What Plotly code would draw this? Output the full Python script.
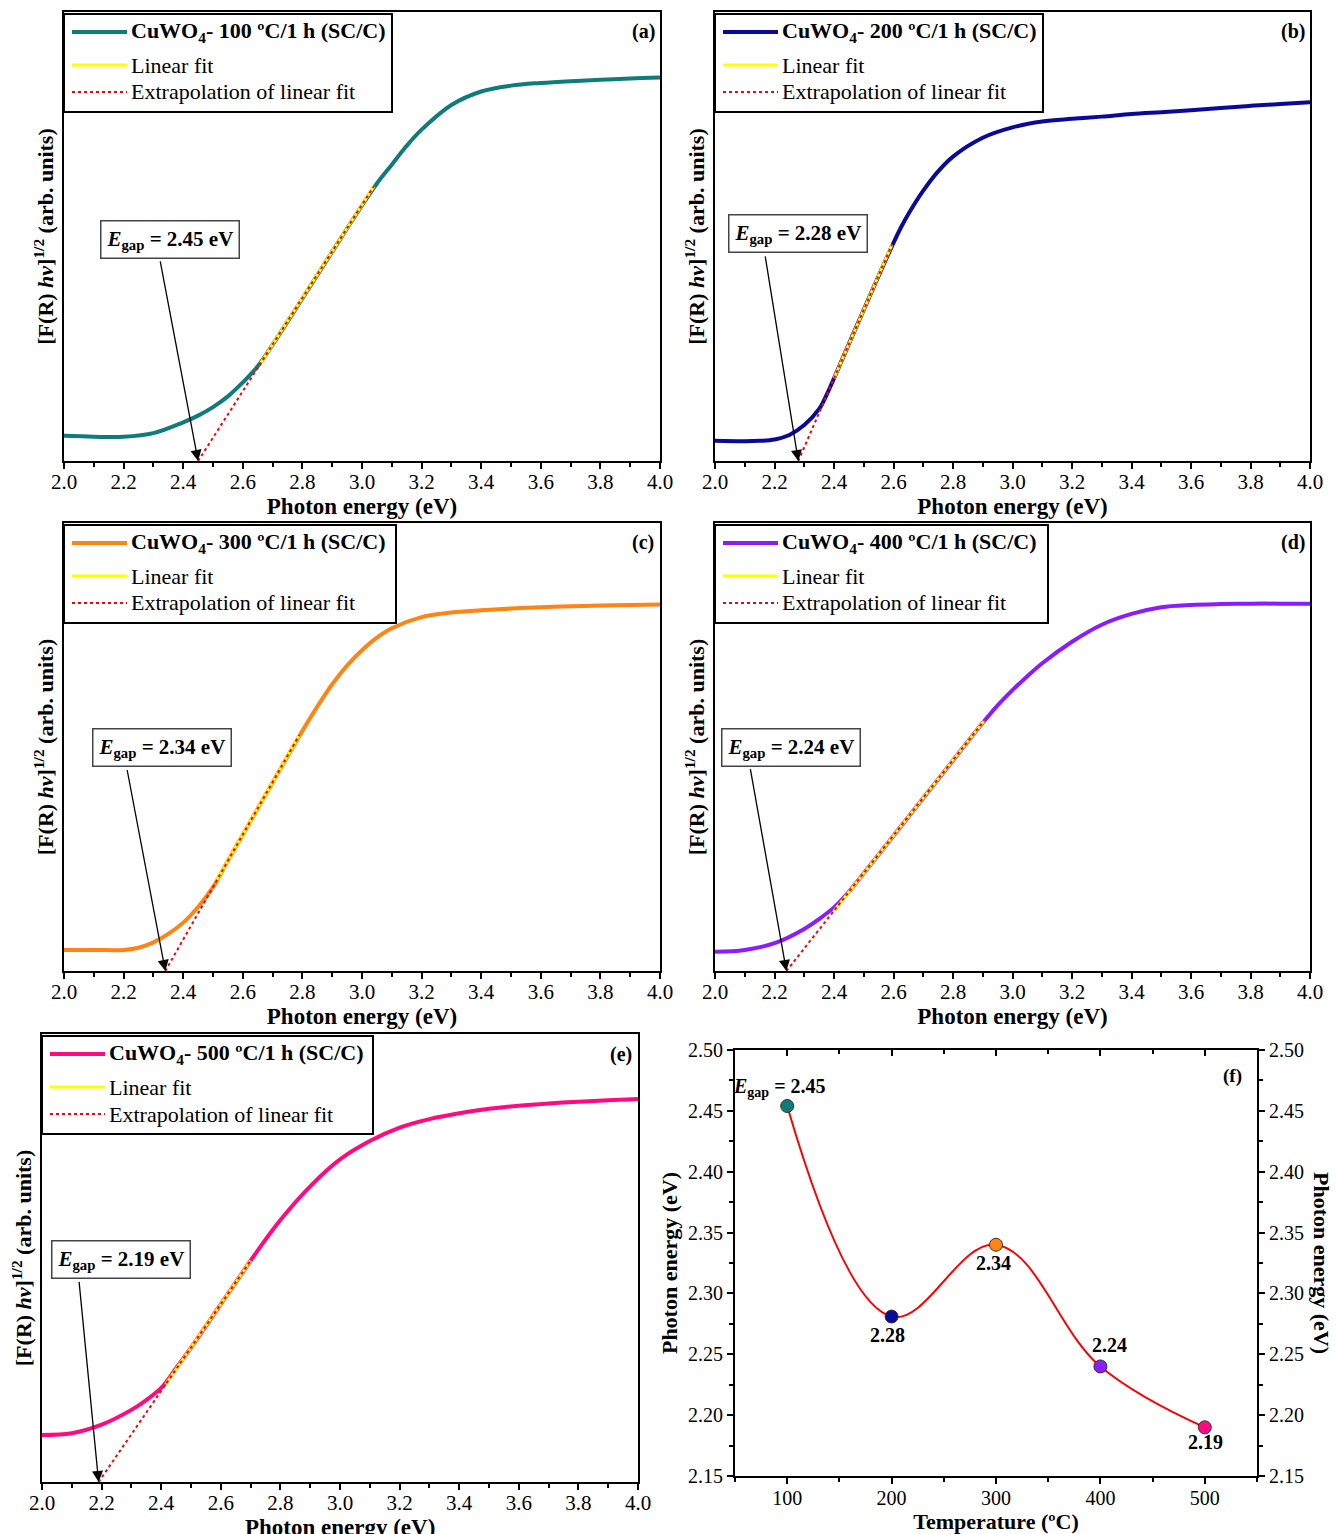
import plotly.graph_objects as go

# ------------------------------------------------------------------ data
ENERGY_A = [2.0, 2.1, 2.2, 2.3, 2.4, 2.45, 2.5, 2.55, 2.6, 2.65, 2.7, 2.8, 2.9, 3.0, 3.05, 3.1, 3.15, 3.2, 3.3,
            3.4, 3.5, 3.6, 3.7, 3.8, 3.9, 4.0]
SIGNAL_A = [0.056, 0.054, 0.054, 0.062, 0.086, 0.101, 0.120, 0.144, 0.175, 0.211, 0.259, 0.362, 0.466, 0.569,
            0.618, 0.660, 0.702, 0.738, 0.793, 0.823, 0.836, 0.842, 0.846, 0.849, 0.852, 0.854]
FIT_A_X = [2.66, 3.04]
FIT_A_Y = [0.218, 0.612]

ENERGY_B = [2.0, 2.1, 2.15, 2.2, 2.25, 2.3, 2.35, 2.375, 2.4, 2.5, 2.6, 2.625, 2.65, 2.7, 2.75, 2.8, 2.9, 3.0,
            3.1, 3.2, 3.3, 3.4, 3.5, 3.6, 3.7, 3.8, 3.9, 4.0]
SIGNAL_B = [0.045, 0.044, 0.045, 0.048, 0.058, 0.080, 0.116, 0.147, 0.184, 0.337, 0.486, 0.520, 0.550, 0.602,
            0.645, 0.678, 0.720, 0.743, 0.756, 0.762, 0.767, 0.773, 0.777, 0.781, 0.786, 0.791, 0.795, 0.799]
FIT_B_X = [2.40, 2.595]
FIT_B_Y = [0.184, 0.482]

ENERGY_C = [2.0, 2.1, 2.2, 2.25, 2.3, 2.35, 2.4, 2.45, 2.5, 2.55, 2.6, 2.7, 2.8, 2.85, 2.9, 2.95, 3.0, 3.05, 3.1,
            3.2, 3.3, 3.4, 3.5, 3.6, 3.7, 3.8, 3.9, 4.0]
SIGNAL_C = [0.047, 0.047, 0.047, 0.052, 0.064, 0.083, 0.108, 0.143, 0.187, 0.246, 0.304, 0.421, 0.536, 0.590,
            0.640, 0.682, 0.716, 0.744, 0.765, 0.790, 0.800, 0.805, 0.809, 0.812, 0.814, 0.816, 0.817, 0.818]
FIT_C_X = [2.51, 2.79]
FIT_C_Y = [0.199, 0.527]

ENERGY_D = [2.0, 2.1, 2.2, 2.3, 2.35, 2.4, 2.45, 2.5, 2.6, 2.7, 2.8, 2.9, 2.95, 3.0, 3.05, 3.1, 3.2, 3.3, 3.4,
            3.5, 3.6, 3.7, 3.8, 3.9, 4.0]
SIGNAL_D = [0.043, 0.047, 0.062, 0.094, 0.116, 0.142, 0.177, 0.218, 0.302, 0.386, 0.470, 0.554, 0.593, 0.627,
            0.658, 0.687, 0.735, 0.773, 0.797, 0.812, 0.817, 0.819, 0.820, 0.820, 0.820]
FIT_D_X = [2.40, 2.905]
FIT_D_Y = [0.134, 0.559]

ENERGY_E = [2.0, 2.1, 2.2, 2.3, 2.35, 2.4, 2.45, 2.5, 2.6, 2.7, 2.75, 2.8, 2.9, 3.0, 3.1, 3.2, 3.3, 3.4, 3.5,
            3.6, 3.7, 3.8, 3.9, 4.0]
SIGNAL_E = [0.105, 0.109, 0.128, 0.161, 0.183, 0.210, 0.254, 0.300, 0.397, 0.494, 0.541, 0.585, 0.660, 0.720,
            0.761, 0.791, 0.810, 0.823, 0.833, 0.840, 0.845, 0.849, 0.852, 0.855]
FIT_E_X = [2.415, 2.70]
FIT_E_Y = [0.218, 0.494]

EGAP = [2.45, 2.28, 2.34, 2.24, 2.19]
SAMPLE_LABELS = ["CuWO<sub>4</sub>- 100 ºC/1 h (SC/C)", "CuWO<sub>4</sub>- 200 ºC/1 h (SC/C)",
                 "CuWO<sub>4</sub>- 300 ºC/1 h (SC/C)", "CuWO<sub>4</sub>- 400 ºC/1 h (SC/C)",
                 "CuWO<sub>4</sub>- 500 ºC/1 h (SC/C)"]
LEGEND_FIT = "Linear fit"
LEGEND_EXT = "Extrapolation of linear fit"
PANEL_LETTERS = ["(a)", "(b)", "(c)", "(d)", "(e)"]
X_TITLE = "Photon energy (eV)"
Y_TITLE = "[F(R) <i>hν</i>]<sup>1/2</sup> (arb. units)"

TEMPERATURE = [100, 200, 300, 400, 500]
EGAP_F = [2.454, 2.281, 2.340, 2.240, 2.190]
EGAP_F_LABELS = ["<i>E</i><sub>gap</sub> = 2.45", "2.28", "2.34", "2.24", "2.19"]

X_TICKS = [2.0, 2.2, 2.4, 2.6, 2.8, 3.0, 3.2, 3.4, 3.6, 3.8, 4.0]
F_X_TICKS = [100, 200, 300, 400, 500]
F_Y_TICKS = [2.15, 2.20, 2.25, 2.30, 2.35, 2.40, 2.45, 2.50]

# ------------------------------------------------------------------ styles
W, H = 1336, 1534
FONT = "Liberation Serif"
COLORS = ["#0e7c7b", "#0a0a9a", "#ff8412", "#8a1cff", "#ff0a80"]

# pixel boxes (left, top, right, bottom)
BOXES = [(64, 12, 660, 461), (715, 12, 1310, 461), (64, 523, 660, 971),
         (715, 523, 1310, 971), (42, 1034, 638, 1482)]
LEGEND_W = [328, 328, 332, 333, 331]
BOX_F = (735, 1050, 1257, 1476)


def px(x):
    return x / W


def py(y):
    return 1 - y / H


def dom(box):
    l, t, r, b = box
    return [l / W, r / W], [1 - b / H, 1 - t / H]


curves = [(ENERGY_A, SIGNAL_A, FIT_A_X, FIT_A_Y), (ENERGY_B, SIGNAL_B, FIT_B_X, FIT_B_Y),
          (ENERGY_C, SIGNAL_C, FIT_C_X, FIT_C_Y), (ENERGY_D, SIGNAL_D, FIT_D_X, FIT_D_Y),
          (ENERGY_E, SIGNAL_E, FIT_E_X, FIT_E_Y)]

# annotation placement (data coords of each panel): box centre and arrow tail
EG_BOX_POS = [(2.356, 0.494), (2.279, 0.506), (2.329, 0.499), (2.255, 0.499), (2.265, 0.497)]
EG_TAIL_POS = [(2.322, 0.448), (2.168, 0.459), (2.211, 0.452), (2.118, 0.454), (2.124, 0.450)]

fig = go.Figure()
layout = dict(width=W, height=H, margin=dict(l=0, r=0, t=0, b=0), template="none",
              paper_bgcolor="white", plot_bgcolor="white", showlegend=False,
              font=dict(family=FONT, size=19, color="black"))
annotations = []
shapes = []

for i in range(5):
    n = i + 1
    xs = "x" if n == 1 else f"x{n}"
    ys = "y" if n == 1 else f"y{n}"
    energy, signal, fx, fy = curves[i]
    fig.add_trace(go.Scatter(x=energy, y=signal, mode="lines",
                             line=dict(color=COLORS[i], width=4, shape="spline", smoothing=1.0),
                             name=SAMPLE_LABELS[i], xaxis=xs, yaxis=ys))
    fig.add_trace(go.Scatter(x=fx, y=fy, mode="lines", line=dict(color="#ffff00", width=3),
                             name=LEGEND_FIT, xaxis=xs, yaxis=ys))
    fig.add_trace(go.Scatter(x=[EGAP[i], fx[1]], y=[0, fy[1]], mode="lines",
                             line=dict(color="#ff0000", width=2, dash="dot"),
                             name=LEGEND_EXT, xaxis=xs, yaxis=ys))
    xd, yd = dom(BOXES[i])
    l, t, r, b = BOXES[i]
    xaxis = dict(
        domain=xd, anchor=ys, range=[2.0, 4.0], tickvals=X_TICKS, tickformat=".1f",
        ticks="outside", ticklen=6, tickwidth=1.5, tickcolor="black", ticklabelstandoff=-5,
        minor=dict(dtick=0.1, tick0=2.0, ticks="outside", ticklen=4, tickwidth=1.5, tickcolor="black"),
        showline=True, linewidth=2, linecolor="black", mirror=True, showgrid=False, zeroline=False,
        automargin=False, tickfont=dict(family=FONT, size=21))
    if n < 5:
        xaxis["title"] = dict(text=f"<b>{X_TITLE}</b>", font=dict(family=FONT, size=23), standoff=2)
    else:
        # bottom panel: title sits at the very edge of the page (partly cut, as in the original)
        annotations.append(dict(x=px((l + r) / 2), y=py(b + 45), xref="paper", yref="paper",
                                text=f"<b>{X_TITLE}</b>", xanchor="center", yanchor="middle",
                                showarrow=False, font=dict(family=FONT, size=23)))
    layout["xaxis" if n == 1 else f"xaxis{n}"] = xaxis
    layout["yaxis" if n == 1 else f"yaxis{n}"] = dict(
        domain=yd, anchor=xs, range=[0, 1], showticklabels=False, ticks="",
        showline=True, linewidth=2, linecolor="black", mirror=True, showgrid=False, zeroline=False,
        automargin=False,
        title=dict(text=f"<b>{Y_TITLE}</b>", font=dict(family=FONT, size=22), standoff=2))

    # legend box drawn by hand
    shapes.append(dict(type="rect", xref="paper", yref="paper", x0=px(l), x1=px(l + LEGEND_W[i]),
                       y0=py(t + 100), y1=py(t + 2), line=dict(color="black", width=2), fillcolor="white",
                       layer="above"))
    rows = [(t + 20, dict(color=COLORS[i], width=4), f"<b>{SAMPLE_LABELS[i]}</b>"),
            (t + 53, dict(color="#ffff00", width=3), LEGEND_FIT),
            (t + 80, dict(color="#ff0000", width=2, dash="dot"), LEGEND_EXT)]
    for ry, lstyle, txt in rows:
        shapes.append(dict(type="line", xref="paper", yref="paper", x0=px(l + 8), x1=px(l + 63),
                           y0=py(ry), y1=py(ry), line=lstyle, layer="above"))
        annotations.append(dict(x=px(l + 65), y=py(ry), xref="paper", yref="paper", text=txt,
                                xanchor="left", yanchor="middle", showarrow=False,
                                font=dict(family=FONT, size=22, color="black")))

    annotations.append(dict(x=px(r - 17), y=py(t + 20), xref="paper", yref="paper",
                            xanchor="center", yanchor="middle",
                            text=f"<b>{PANEL_LETTERS[i]}</b>", showarrow=False, font=dict(family=FONT, size=20)))
    bx, by = EG_BOX_POS[i]
    annotations.append(dict(x=bx, y=by, xref=xs, yref=ys, showarrow=False,
                            text=f"<b><i>E</i><sub>gap</sub> = {EGAP[i]:.2f} eV</b>",
                            font=dict(family=FONT, size=21), bgcolor="white", bordercolor="#444",
                            borderwidth=1.5, borderpad=5))
    tx, ty = EG_TAIL_POS[i]
    annotations.append(dict(x=EGAP[i], y=0, xref=xs, yref=ys, ax=tx, ay=ty, axref=xs, ayref=ys, text="",
                            showarrow=True, arrowhead=2, arrowsize=1.7, arrowwidth=1.3, arrowcolor="black"))

# ------------------------------------------------------------------ panel f
fig.add_trace(go.Scatter(x=TEMPERATURE, y=EGAP_F, mode="lines",
                         line=dict(color="#ff0000", width=2, shape="spline", smoothing=1.1),
                         xaxis="x6", yaxis="y6", hoverinfo="skip"))
fig.add_trace(go.Scatter(x=TEMPERATURE, y=EGAP_F, mode="markers",
                         marker=dict(size=13, color=COLORS, line=dict(color="#333333", width=1)),
                         xaxis="x6", yaxis="y6"))
fig.add_trace(go.Scatter(x=TEMPERATURE, y=EGAP_F, mode="markers", marker=dict(opacity=0),
                         xaxis="x7", yaxis="y7", hoverinfo="skip"))
xd, yd = dom(BOX_F)
common_f = dict(showline=True, linewidth=2, linecolor="black", showgrid=False, zeroline=False, automargin=False)
layout["xaxis6"] = dict(domain=xd, anchor="y6", range=[50, 550], tickvals=F_X_TICKS, ticks="outside", ticklen=6,
                        tickwidth=1.5, tickcolor="black", ticklabelstandoff=-3,
                        minor=dict(dtick=50, tick0=50, ticks="outside", ticklen=4, tickwidth=1.5, tickcolor="black"),
                        tickfont=dict(family=FONT, size=20),
                        title=dict(text="<b>Temperature (ºC)</b>", font=dict(family=FONT, size=22), standoff=2),
                        **common_f)
layout["xaxis7"] = dict(domain=xd, anchor="y6", overlaying="x6", side="top", range=[50, 550],
                        tickvals=F_X_TICKS, ticks="inside", ticklen=6, tickwidth=1.5, tickcolor="black",
                        minor=dict(dtick=50, tick0=50, ticks="inside", ticklen=4, tickwidth=1.5, tickcolor="black"),
                        showticklabels=False, **common_f)
layout["yaxis6"] = dict(domain=yd, anchor="x6", range=[2.15, 2.50], tickvals=F_Y_TICKS, tickformat=".2f",
                        ticks="outside", ticklen=6, tickwidth=1.5, tickcolor="black",
                        minor=dict(dtick=0.025, tick0=2.15, ticks="outside", ticklen=4, tickwidth=1.5,
                                   tickcolor="black"),
                        tickfont=dict(family=FONT, size=20),
                        title=dict(text="<b>Photon energy (eV)</b>", font=dict(family=FONT, size=22), standoff=4),
                        **common_f)
layout["yaxis7"] = dict(domain=yd, anchor="x6", overlaying="y6", side="right", range=[2.15, 2.50],
                        tickvals=F_Y_TICKS, tickformat=".2f", ticks="outside", ticklen=6, tickwidth=1.5,
                        tickcolor="black",
                        minor=dict(dtick=0.025, tick0=2.15, ticks="outside", ticklen=4, tickwidth=1.5,
                                   tickcolor="black"),
                        tickfont=dict(family=FONT, size=20), **common_f)

F_LABEL_POS = [(93, 2.469), (196, 2.266), (298, 2.325), (409, 2.258), (501, 2.178)]
for lab, (lx, ly) in zip(EGAP_F_LABELS, F_LABEL_POS):
    annotations.append(dict(x=lx, y=ly, xref="x6", yref="y6", text=f"<b>{lab}</b>", showarrow=False,
                            xanchor="center", yanchor="middle", font=dict(family=FONT, size=20)))
annotations.append(dict(x=px(1232), y=py(1076), xref="paper", yref="paper", text="<b>(f)</b>",
                        xanchor="center", yanchor="middle", showarrow=False, font=dict(family=FONT, size=19)))
annotations.append(dict(x=px(1322), y=py(1263), xref="paper", yref="paper", text="<b>Photon energy (eV)</b>",
                        xanchor="center", yanchor="middle", textangle=90, showarrow=False,
                        font=dict(family=FONT, size=22)))

layout["annotations"] = annotations
layout["shapes"] = shapes
fig.update_layout(**layout)
fig.write_html("out.html")
